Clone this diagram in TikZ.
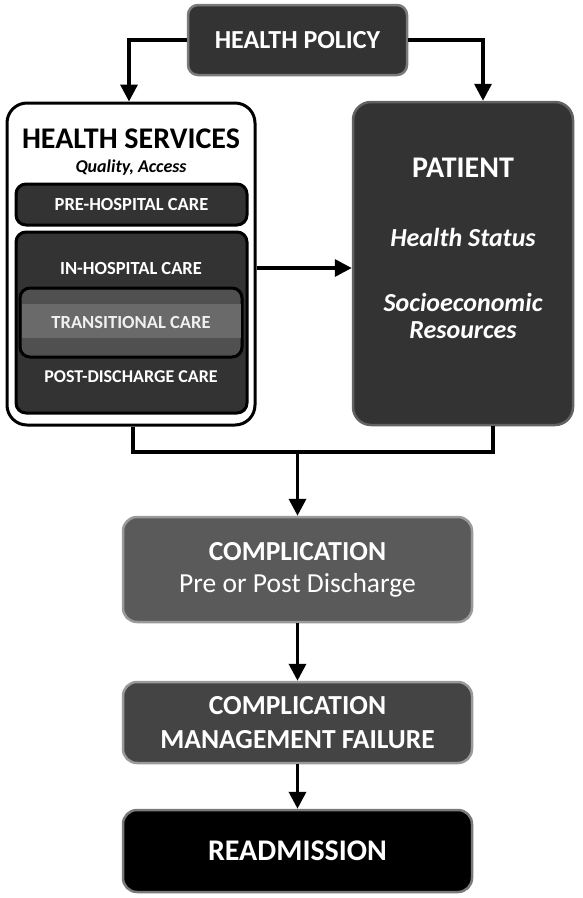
\documentclass[tikz,border=0pt]{standalone}
\usepackage{fontspec}
\setmainfont{Carlito}
\usetikzlibrary{arrows.meta,positioning}
\definecolor{boxdark}{HTML}{333333}
\definecolor{boxmid}{HTML}{5A5A5A}
\definecolor{boxmgmt}{HTML}{444444}
\definecolor{edgegray}{HTML}{7A7A7A}
\definecolor{edgelight}{HTML}{9A9A9A}
\definecolor{banddark}{HTML}{505050}
\definecolor{bandlight}{HTML}{6A6A6A}

\begin{document}
\begin{tikzpicture}
  [x=1pt,y=-1pt,>={Triangle[width=17pt,length=17pt]},
  box/.style={draw=edgegray,fill=boxdark,line width=2.5pt,rounded corners=10pt,
    text=white,align=center,inner sep=0pt},
  sub box/.style={box,draw=black,line width=3pt},
  label/.style={text=white,font=\fontsize{18.5}{20}\selectfont\bfseries},
  flow/.style={line width=3.5pt}]
  \useasboundingbox (0,0) rectangle (582,898);
  % top
  \node[box,minimum width=219pt,minimum height=70pt,
    font=\fontsize{26}{28}\selectfont\bfseries] (policy) at (297.5,40) {HEALTH POLICY};
  % health services
  \node[draw=black,fill=white,line width=3pt,rounded corners=20pt,
    minimum width=248pt,minimum height=322pt] (services) at (131,264) {};
  \node[font=\fontsize{30}{32}\selectfont\bfseries] (services title) at (131,139) {HEALTH SERVICES};
  \node[font=\fontsize{18}{20}\selectfont\bfseries\itshape] (quality) at (131,168) {Quality, Access};
  \node[sub box,minimum width=231pt,minimum height=41pt] (pre) at (131.5,204.5) {};
  \node[sub box,minimum width=231pt,minimum height=181pt] (hospital) at (131.5,322.5) {};
  \node[sub box,fill=banddark,minimum width=222pt,minimum height=69pt] (transitional) at (131,322.5) {};
  \fill[bandlight] (21.5,304) rectangle (240.5,338);
  \node[label] at (pre) {PRE-HOSPITAL CARE};
  \node[label] (in care) at (131,268) {IN-HOSPITAL CARE};
  \node[label,text=white!94!black] (trans care) at (131,322) {TRANSITIONAL CARE};
  \node[label,font=\fontsize{18}{20}\selectfont\bfseries] (post care) at (131,377) {POST-DISCHARGE CARE};
  % patient
  \node[box,draw=edgegray!80!black,rounded corners=18pt,minimum width=220pt,minimum height=323pt] (patient) at (463,263.5) {};
  \node[text=white,font=\fontsize{30}{32}\selectfont\bfseries] (patient title) at (463,168) {PATIENT};
  \node[text=white,font=\fontsize{26}{28}\selectfont\bfseries\itshape] (status) at (463,237) {Health Status};
  \node[text=white,font=\fontsize{26}{27}\selectfont\bfseries\itshape,align=center] (resources) at (463,316) {Socioeconomic\\Resources};
  % outcome chain
  \node[box,fill=boxmid,draw=edgelight,rounded corners=14pt,minimum width=349pt,minimum height=105pt,
    font=\fontsize{27.5}{32}\selectfont] (complication) at (297.5,569.5)
    {\textbf{COMPLICATION}\\Pre or Post Discharge};
  \node[box,fill=boxmgmt,draw=edgelight,rounded corners=14pt,minimum width=349pt,minimum height=81pt,
    font=\fontsize{27.5}{34}\selectfont\bfseries] (management) at (297.5,722.5)
    {COMPLICATION\\MANAGEMENT FAILURE};
  \node[box,fill=black,draw=edgegray,rounded corners=14pt,minimum width=349pt,minimum height=82pt,
    font=\fontsize{30}{32}\selectfont\bfseries] (readmission) at (297.5,851) {READMISSION};
  % connectors
  \coordinate (join) at (297.5,452);
  \draw[flow,->] (policy.west) -| ([xshift=-2pt]services.north);
  \draw[flow,->] (policy.east) -| ([xshift=20pt]patient.north);
  \draw[flow,->] (services.east |- in care) -- (patient.west |- in care);
  \draw[flow] ([xshift=2pt]services.south) |- (join) -| ([xshift=30pt]patient.south);
  \draw[flow,->] (join) -- (complication.north);
  \draw[flow,->] (complication) -- (management);
  \draw[flow,->] (management) -- (readmission);
\end{tikzpicture}
\end{document}
